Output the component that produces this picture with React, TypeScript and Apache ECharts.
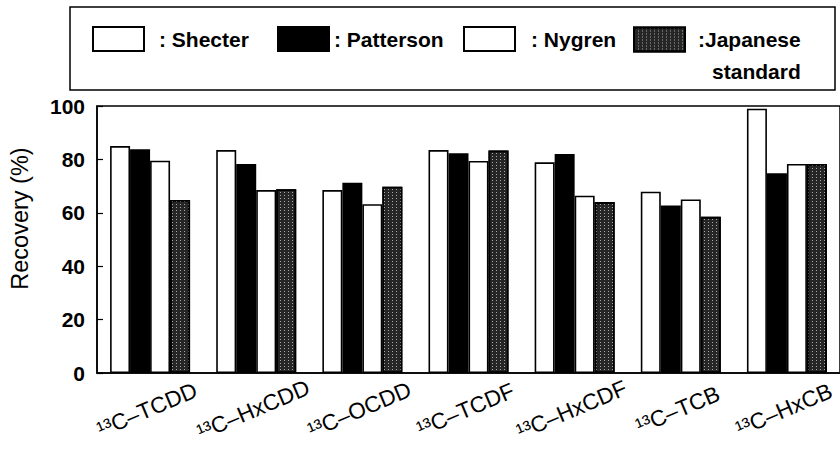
import React, { useEffect, useRef } from "react";
import * as echarts from "echarts";

const categories = ["¹³C–TCDD", "¹³C–HxCDD", "¹³C–OCDD", "¹³C–TCDF", "¹³C–HxCDF", "¹³C–TCB", "¹³C–HxCB"];
const shecter = [85.0, 83.5, 68.5, 83.5, 78.9, 67.9, 99.0];
const patterson = [83.8, 78.3, 71.3, 82.3, 82.0, 62.7, 74.8];
const nygren = [79.5, 68.5, 63.2, 79.4, 66.4, 65.0, 78.3];
const japanese = [64.8, 68.8, 69.8, 83.3, 64.0, 58.5, 78.3];
const yTicks = { min: 0, max: 100, interval: 20 };

const FONT = "'Liberation Sans', Arial, Helvetica, sans-serif";

export default function App() {
  const ref = useRef<HTMLDivElement>(null);
  useEffect(() => {
    if (!ref.current) return;
    const chart = echarts.init(ref.current, null, { renderer: "svg" });
    const border = { borderColor: "#000", borderWidth: 1.6 };
    const legendBase = {
      top: 26,
      padding: 0,
      itemWidth: 51,
      itemHeight: 24,
      icon: "rect",
      selectedMode: false,
      textStyle: { fontFamily: FONT, fontSize: 21, fontWeight: "bold", color: "#000" },
    };
    const frame = {
      id: "legendFrame",
      type: "rect",
      shape: { x: 70, y: 7, width: 765, height: 83 },
      style: { fill: "none", stroke: "#000", lineWidth: 1.5 },
      silent: true,
    };
    chart.setOption({
      animation: false,
      backgroundColor: "#fff",
      textStyle: { fontFamily: FONT },
      grid: {
        left: 93,
        top: 106,
        width: 752,
        height: 267,
        show: true,
        borderColor: "#000",
        borderWidth: 1.5,
        backgroundColor: "transparent",
      },
      legend: [
        {
          ...legendBase,
          left: 92,
          data: ["Shecter"],
          formatter: (n: string) => ": " + n,
          textStyle: { ...legendBase.textStyle, padding: [0, 0, 0, 10] },
        },
        {
          ...legendBase,
          left: 277,
          data: ["Patterson"],
          formatter: (n: string) => ": " + n,
          textStyle: { ...legendBase.textStyle, padding: [0, 0, 0, 0] },
        },
        {
          ...legendBase,
          left: 463,
          data: ["Nygren"],
          formatter: (n: string) => ": " + n,
          textStyle: { ...legendBase.textStyle, padding: [0, 0, 0, 11] },
        },
        {
          ...legendBase,
          left: 633,
          top: -3,
          data: ["Japanese standard"],
          formatter: () => "{a| }\n{a|:Japanese}\n{b|standard}",
          textStyle: {
            ...legendBase.textStyle,
            padding: [0, 0, 0, 8],
            rich: {
              a: { fontFamily: FONT, fontSize: 21, fontWeight: "bold", color: "#000", lineHeight: 32 },
              b: { fontFamily: FONT, fontSize: 21, fontWeight: "bold", color: "#000", lineHeight: 32, align: "right" },
            },
          },
        },
      ],
      graphic: { elements: [frame] },
      xAxis: {
        type: "category",
        data: categories,
        axisLine: { lineStyle: { color: "#000", width: 1.5 } },
        axisTick: { show: false },
        axisLabel: { show: false },
      },
      yAxis: {
        type: "value",
        min: yTicks.min,
        max: yTicks.max,
        interval: yTicks.interval,
        name: "Recovery (%)",
        nameLocation: "middle",
        nameRotate: 90,
        nameGap: 65,
        nameTextStyle: { fontFamily: FONT, fontSize: 23.5, color: "#000", padding: [0, 0, 0, 42] },
        axisLine: { show: true, lineStyle: { color: "#000", width: 1.5 } },
        axisTick: { show: true, inside: true, length: 6, lineStyle: { color: "#000", width: 1.2 } },
        splitLine: { show: false },
        axisLabel: { fontFamily: FONT, fontSize: 21, fontWeight: "bold", color: "#000", margin: 12 },
      },
      series: [
        {
          name: "Shecter",
          type: "bar",
          data: shecter,
          barWidth: 20,
          barGap: "0%",
          itemStyle: { color: "#fff", ...border },
        },
        {
          name: "Patterson",
          type: "bar",
          data: patterson,
          barWidth: 20,
          barGap: "0%",
          itemStyle: { color: "#000", ...border },
        },
        {
          name: "Nygren",
          type: "bar",
          data: nygren,
          barWidth: 20,
          barGap: "0%",
          itemStyle: { color: "#fff", ...border },
        },
        {
          name: "Japanese standard",
          type: "bar",
          data: japanese,
          barWidth: 20,
          barGap: "0%",
          itemStyle: {
            color: "#262626",
            ...border,
            decal: {
              symbol: "rect",
              symbolSize: 1,
              color: "rgba(255,255,255,0.6)",
              dashArrayX: [1, 3],
              dashArrayY: [1, 2],
              rotation: 0,
            },
          },
        },
      ],
    });

    // Rotated category labels positioned through the chart's own category scale
    const angle = (23 * Math.PI) / 180;
    const labels = categories.map((c, i) => {
      const p = chart.convertToPixel({ gridIndex: 0 }, [i, 0]) as number[];
      return {
        id: "xl" + i,
        type: "text",
        x: p[0] - 3,
        y: p[1] + 37,
        rotation: angle,
        silent: true,
        style: {
          text: c,
          fontFamily: FONT,
          fontSize: 22.5,
          fill: "#000",
          align: "center",
          verticalAlign: "middle",
          textAlign: "center",
          textVerticalAlign: "middle",
        },
      };
    });
    chart.setOption({ graphic: { elements: [frame, ...labels] } });

    return () => chart.dispose();
  }, []);
  return (
    <div
      ref={ref}
      style={{ position: "fixed", left: 0, top: 0, width: 840, height: 452, background: "#fff" }}
    />
  );
}
